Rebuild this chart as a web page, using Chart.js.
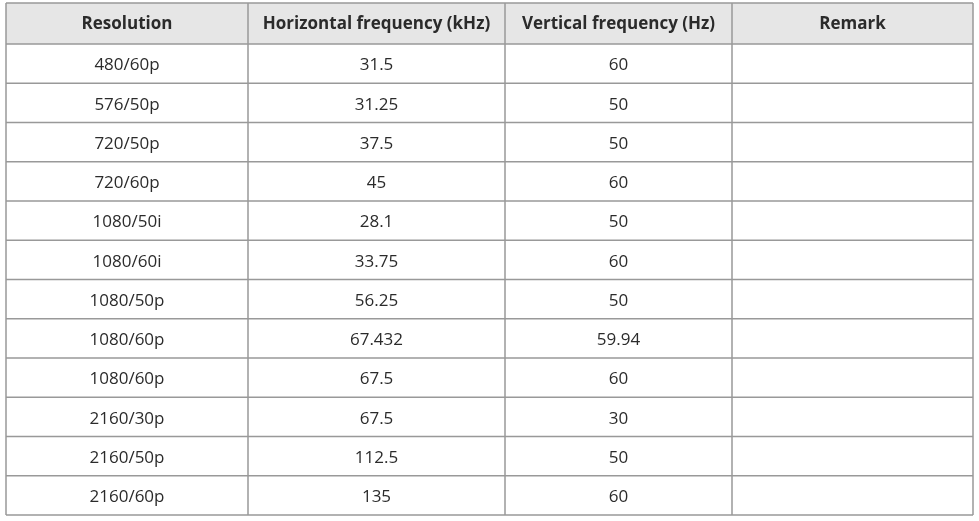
<!DOCTYPE html>
<html><head><meta charset="utf-8">
<script src="https://cdn.jsdelivr.net/npm/chart.js@4"></script>
<style>html,body{margin:0;padding:0;background:#fff}#w{width:979px;height:521px}</style>
</head><body><div id="w"><canvas id="c"></canvas></div>
<script>
const headers = ["Resolution","Horizontal frequency (kHz)","Vertical frequency (Hz)","Remark"];
const resolutions = ["480/60p","576/50p","720/50p","720/60p","1080/50i","1080/60i","1080/50p","1080/60p","1080/60p","2160/30p","2160/50p","2160/60p"];
const hFreq = ["31.5","31.25","37.5","45","28.1","33.75","56.25","67.432","67.5","67.5","112.5","135"];
const vFreq = ["60","50","50","60","50","60","50","59.94","60","30","50","60"];
const remarks = ["","","","","","","","","","","",""];
const colEdges = [0,242,499,726,967];

const tablePlugin = {
  id:'table',
  afterDraw(chart){
    const ctx = chart.ctx, xs = chart.scales.x, ys = chart.scales.y, a = chart.chartArea;
    const headTop = 3, headBot = a.top;
    const X = colEdges.map(v=>xs.getPixelForValue(v));
    const rowH = (a.bottom - a.top)/resolutions.length;
    ctx.save();
    ctx.fillStyle = '#e6e6e6';
    ctx.fillRect(X[0], headTop, X[4]-X[0], headBot-headTop);
    ctx.strokeStyle = '#999'; ctx.lineWidth = 1.5;
    ctx.beginPath();
    const ys0=[headTop, headBot];
    for(let i=1;i<=resolutions.length;i++) ys0.push(a.top+i*rowH);
    ys0.forEach(y=>{ctx.moveTo(X[0],y);ctx.lineTo(X[4],y);});
    X.forEach(x=>{ctx.moveTo(x,headTop);ctx.lineTo(x,a.bottom);});
    ctx.stroke();
    ctx.textAlign='center'; ctx.textBaseline='middle';
    ctx.fillStyle='#2b2b2b';
    ctx.font='bold 17px "Open Sans", "Noto Sans", sans-serif';
    headers.forEach((h,i)=>ctx.fillText(h,(X[i]+X[i+1])/2,(headTop+headBot)/2+1));
    ctx.font='17px "Open Sans", "Noto Sans", sans-serif';
    const cols=[resolutions,hFreq,vFreq,remarks];
    resolutions.forEach((r,j)=>{
      const y = ys.getPixelForValue(j)+2;
      cols.forEach((c,i)=>ctx.fillText(c[j],(X[i]+X[i+1])/2,y));
    });
    ctx.restore();
  }
};

new Chart(document.getElementById('c'),{
  type:'bar',
  data:{labels:resolutions,datasets:[{data:resolutions.map(()=>null)}]},
  options:{
    responsive:true, maintainAspectRatio:false, animation:false,
    indexAxis:'y',
    layout:{padding:{left:6,right:6,top:44,bottom:6}},
    plugins:{legend:{display:false},tooltip:{enabled:false}},
    scales:{
      x:{type:'linear',min:0,max:967,display:false},
      y:{type:'category',display:false,offset:true}
    }
  },
  plugins:[tablePlugin]
});
</script></body></html>
